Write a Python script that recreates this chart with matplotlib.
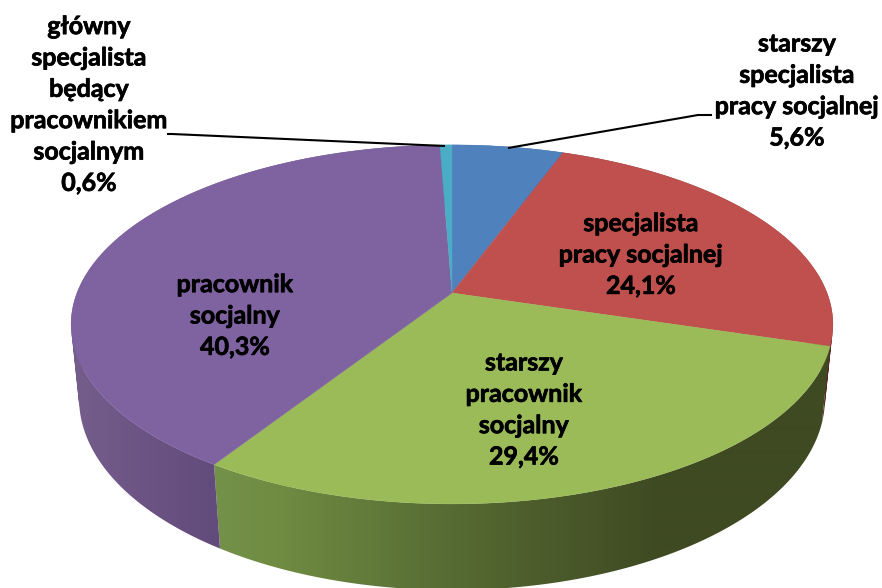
import numpy as np
import matplotlib
matplotlib.use("Agg")
import matplotlib.pyplot as plt
import matplotlib.patheffects as pe
from matplotlib.colors import LinearSegmentedColormap
from matplotlib.patches import PathPatch
from matplotlib.path import Path

categories = ["starszy\nspecjalista\npracy socjalnej", "specjalista\npracy socjalnej",
              "starszy\npracownik\nsocjalny", "pracownik\nsocjalny",
              "główny\nspecjalista\nbędący\npracownikiem\nsocjalnym"]
values = [5.6, 24.1, 29.4, 40.3, 0.6]
value_labels = ["5,6%", "24,1%", "29,4%", "40,3%", "0,6%"]
top_colors = ["#4F81BD", "#BF504D", "#9BBB59", "#7F63A1", "#4BACC6"]
side_stops = [
    [(0, "#3A5F8E"), (1, "#3A5F8E")],
    [(0, "#5A2A28"), (1, "#5A2A28")],
    [(0, "#7B9A4B"), (0.19, "#74914A"), (0.27, "#708C42"), (0.5, "#566B33"), (0.77, "#3F4A22"), (1, "#3F4A22")],
    [(0, "#755D8C"), (0.2, "#614B7A"), (1, "#5C4675")],
    [(0, "#33798C"), (1, "#33798C")],
]
label_pos = [(797, 91), (641, 255), (524, 410), (235, 316), (89, 105)]

plt.rcParams["font.family"] = ["Lato", "DejaVu Sans"]
fig = plt.figure(figsize=(8.82, 5.88), dpi=100)
ax = fig.add_axes([0, 0, 1, 1])
W, H = 882, 588


def project(theta, cx, cy, b, a, k):
    u, v = np.sin(theta), np.cos(theta)
    d = 1 + k * v
    return cx + b * u / d, cy - a * v / d


def ccw(q):
    q = np.asarray(q)
    x, y = q[:, 0], q[:, 1]
    area = np.sum(x * np.roll(y, -1) - np.roll(x, -1) * y)
    return q if area > 0 else q[::-1]


TOP = (452, 293, 375, 174, 0.175)
BOTTOM = (452, 366, 367.5, 186, 0.17)
edges = np.radians(np.concatenate([[0], np.cumsum(values)]) * 3.6)

# sides
for i, val in enumerate(values):
    th = np.linspace(edges[i], edges[i + 1], max(int(val * 6), 4))
    x1, y1 = project(th, *TOP)
    x2, y2 = project(th, *BOTTOM)
    quads = [ccw([(x1[j], y1[j]), (x1[j + 1], y1[j + 1]), (x2[j + 1], y2[j + 1]), (x2[j], y2[j]), (x1[j], y1[j])])
             for j in range(len(th) - 1)]
    path = Path.make_compound_path(*[Path(q, closed=True) for q in quads])
    patch = PathPatch(path, fc="none", ec="none", transform=ax.transData)
    ax.add_patch(patch)
    cmap = LinearSegmentedColormap.from_list(f"s{i}", side_stops[i])
    im = ax.imshow(np.linspace(0, 1, 762)[None, :], cmap=cmap, aspect="auto",
                   extent=(71, 833, H, 0), zorder=1, interpolation="bilinear")
    im.set_clip_path(patch)

# top face
for i, val in enumerate(values):
    th = np.linspace(edges[i], edges[i + 1], 300)
    x, y = project(th, *TOP)
    ax.fill(np.r_[TOP[0], x], np.r_[TOP[1], y], fc=top_colors[i], ec=top_colors[i],
            lw=0.3, zorder=2)

# labels
for name, vl, (lx, ly) in zip(categories, value_labels, label_pos):
    ax.text(lx, ly, f"{name}\n{vl}", ha="center", va="center", ma="center",
            fontsize=18, fontweight="bold", color="black", linespacing=1.44, zorder=4,
            path_effects=[pe.withStroke(linewidth=0.5, foreground="black")])

# leader lines
ax.plot([167, 172, 445], [134, 134, 146], color="black", lw=1.5, zorder=3, solid_capstyle="butt")
ax.plot([508, 698, 712], [148, 115, 115], color="black", lw=1.5, zorder=3, solid_capstyle="butt")

ax.set_xlim(0, W)
ax.set_ylim(H, 0)
ax.axis("off")
fig.savefig("out.png", dpi=100, facecolor="white")
